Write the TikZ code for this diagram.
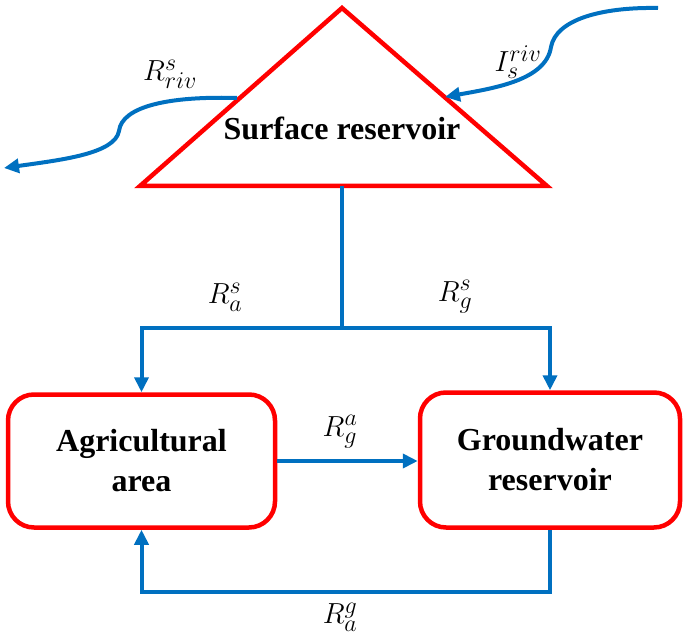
\RequirePackage{fix-cm}
\documentclass[tikz,border=0pt]{standalone}
\usepackage{fontspec}
\setmainfont{Liberation Serif}
\usetikzlibrary{arrows.meta}
\DeclareMathSizes{29}{29}{24}{18}
\definecolor{flowblue}{RGB}{0,112,192}
\definecolor{resred}{RGB}{255,0,0}
\tikzset{
  flow/.style={draw=flowblue, line width=4pt},
  flowarrow/.style={flow, -{Triangle[length=15pt,width=14pt]}},
  storebox/.style={draw=resred, line width=4.5pt, rounded corners=26pt,
    inner sep=0pt, align=center,
    font=\bfseries\fontsize{32}{40}\selectfont},
  storetext/.style={inner sep=0pt, font=\bfseries\fontsize{32}{40}\selectfont},
  rate/.style={inner sep=0pt, font=\fontsize{29}{32}\selectfont}
}
\begin{document}
\begin{tikzpicture}[x=1pt,y=-1pt]
\path[use as bounding box] (0,0) rectangle (685,644);

% surface reservoir (triangle)
\coordinate (apex) at (342,8);
\coordinate (bl) at (140,186);
\coordinate (br) at (547,186);
\draw[resred, line width=4.5pt, line join=miter] (apex) -- (bl) -- (br) -- cycle;
\node[storetext] (sr) at (342,128) {Surface reservoir};

% agricultural area and groundwater reservoir
\node[storebox, minimum width=267pt, minimum height=133pt] (agr) at (141.5,461)
  {Agricultural\\area};
\node[storebox, minimum width=260pt, minimum height=135pt] (gw) at (550,460)
  {Groundwater\\reservoir};

% release from the surface reservoir, split in two
\coordinate (srout) at (342,186);
\coordinate (split) at (342,328);
\draw[flow] (srout) -- (split);
\draw[flowarrow] (split) -| (agr.north);
\draw[flowarrow] (split) -| (gw.north);

% recharge from agriculture to groundwater
\draw[flowarrow] (agr.east) -- (agr.east -| gw.west);

% pumping from groundwater back to agriculture
\coordinate (loop) at (550,592);
\draw[flowarrow] (gw.south) -- (loop) -| (agr.south);

% river inflow and outflow
\coordinate (rivin) at (658,8);
\coordinate (inwig) at (551,47);
\coordinate (intip) at (445,97);
\draw[flowarrow] (rivin) .. controls (600,7) and (556,20) .. (inwig)
  .. controls (546,80) and (495,88) .. (intip);

\coordinate (outst) at (237,98);
\coordinate (outwig) at (119,131);
\coordinate (outtip) at (4,168);
\draw[flowarrow] (outst) .. controls (170,96) and (122,106) .. (outwig)
  .. controls (115,154) and (60,160) .. (outtip);

% flux labels
\node[rate] (lriv) at (170,74) {$R_{riv}^{s}$};
\node[rate] (liriv) at (518,62) {$I_{s}^{riv}$};
\node[rate] (lras) at (225,297) {$R_{a}^{s}$};
\node[rate] (lrgs) at (455,297) {$R_{g}^{s}$};
\node[rate] (lrga) at (340,432) {$R_{g}^{a}$};
\node[rate] (lrag) at (340,617) {$R_{a}^{g}$};
\end{tikzpicture}
\end{document}
